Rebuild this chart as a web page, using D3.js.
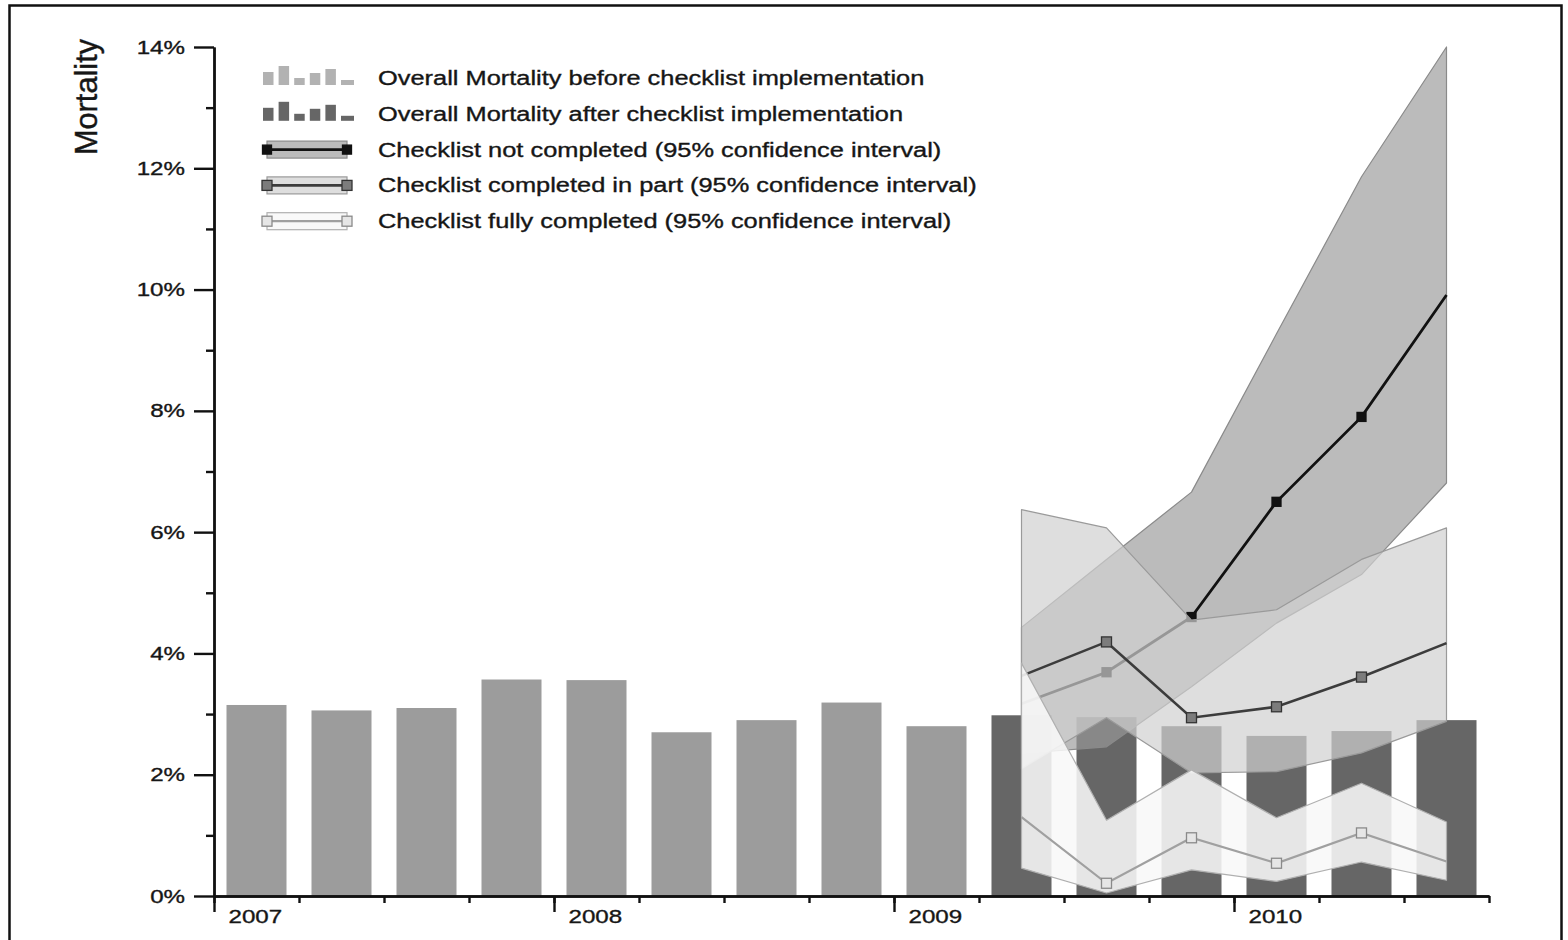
<!DOCTYPE html>
<html>
<head>
<meta charset="utf-8">
<script src="https://cdn.jsdelivr.net/npm/d3@7"></script>
<style>
  html, body { margin: 0; padding: 0; background: #fff; }
  svg { display: block; }
  text { font-family: "Liberation Sans", Arial, Helvetica, sans-serif; fill: #161616; stroke: #161616; stroke-width: 0.35px; }
</style>
</head>
<body>
<svg id="chart" width="1568" height="940"></svg>
<script>
// Quarterly overall mortality (%)
const quarters = ["2007 Q1","2007 Q2","2007 Q3","2007 Q4","2008 Q1","2008 Q2","2008 Q3","2008 Q4",
                  "2009 Q1","2009 Q2","2009 Q3","2009 Q4","2010 Q1","2010 Q2","2010 Q3"];
const overallMortality = [3.15, 3.06, 3.10, 3.57, 3.56, 2.70, 2.90, 3.19, 2.80, 2.98, 2.95, 2.80, 2.64, 2.72, 2.90];
const implementationQuarter = "2009 Q2";
const yearLabels = ["2007", "2008", "2009", "2010"];
const yTickValues = [0, 2, 4, 6, 8, 10, 12, 14];

// Mortality by checklist completion after implementation, with 95% CI (%)
const ciQuarters = ["2009 Q2","2009 Q3","2009 Q4","2010 Q1","2010 Q2","2010 Q3"];
const notCompleted     = [3.17, 3.69, 4.60, 6.50, 7.90, 9.91];
const notCompletedLow  = [2.35, 2.46, 3.45, 4.50, 5.30, 6.81];
const notCompletedHigh = [4.43, 5.55, 6.66, 9.27, 11.86, 14.00];
const partCompleted     = [3.63, 4.19, 2.94, 3.12, 3.61, 4.17];
const partCompletedLow  = [2.10, 2.94, 2.03, 2.05, 2.36, 2.88];
const partCompletedHigh = [6.37, 6.07, 4.55, 4.72, 5.55, 6.07];
const fullCompleted     = [1.30, 0.21, 0.96, 0.54, 1.04, 0.57];
const fullCompletedLow  = [0.46, 0.05, 0.43, 0.24, 0.56, 0.26];
const fullCompletedHigh = [3.84, 1.25, 2.08, 1.29, 1.86, 1.22];

const legendLabels = [
  "Overall Mortality before checklist implementation",
  "Overall Mortality after checklist implementation",
  "Checklist not completed (95% confidence interval)",
  "Checklist completed in part (95% confidence interval)",
  "Checklist fully completed (95% confidence interval)"
];

// ---------------------------------------------------------------------------
const svg = d3.select("#chart");
const SX = 1.27;               // horizontal stretch of lettering
const plot = { left: 214, right: 1489, top: 47, bottom: 896 };

const xBand = d3.scaleBand().domain(quarters)
  .range([plot.left, plot.right]).paddingInner(0.294).paddingOuter(0.147);
const xQuarter = d3.scaleLinear().domain([0, quarters.length]).range([plot.left, plot.right]);
const y = d3.scaleLinear().domain([0, 14]).range([plot.bottom, plot.top]);
const cx = q => xBand(q) + xBand.bandwidth() / 2;

function widen(sel, k) {
  sel.each(function () {
    const w = this.getComputedTextLength();
    d3.select(this).attr("textLength", w * k).attr("lengthAdjust", "spacingAndGlyphs");
  });
}

// outer frame
svg.append("rect").attr("x", 9.5).attr("y", 5.5).attr("width", 1552).attr("height", 960)
  .attr("fill", "none").attr("stroke", "#111").attr("stroke-width", 2.5);

const BEFORE = "#9c9c9c", AFTER = "#666666";
const startIdx = quarters.indexOf(implementationQuarter);

// bars
svg.append("g").selectAll("rect").data(quarters).join("rect")
  .attr("x", q => xBand(q))
  .attr("width", xBand.bandwidth())
  .attr("y", (q, i) => y(overallMortality[i]))
  .attr("height", (q, i) => y(0) - y(overallMortality[i]))
  .attr("fill", (q, i) => i < startIdx ? BEFORE : AFTER);

// confidence bands with their lines
const groups = [
  { mid: notCompleted, lo: notCompletedLow, hi: notCompletedHigh,
    fill: "#999999", fillOpacity: 0.67, edge: "#8a8a8a",
    line: "#111111", lineWidth: 2.8, mFill: "#111111", mStroke: "#111111", mSize: 9 },
  { mid: partCompleted, lo: partCompletedLow, hi: partCompletedHigh,
    fill: "#d0d0d0", fillOpacity: 0.70, edge: "#9a9a9a",
    line: "#3c3c3c", lineWidth: 2.6, mFill: "#7c7c7c", mStroke: "#333333", mSize: 10 },
  { mid: fullCompleted, lo: fullCompletedLow, hi: fullCompletedHigh,
    fill: "#f8f8f8", fillOpacity: 0.88, edge: "#b0b0b0",
    line: "#a0a0a0", lineWidth: 2.2, mFill: "#e6e6e6", mStroke: "#8a8a8a", mSize: 10 }
];

groups.forEach(g => {
  const rows = ciQuarters.map((q, i) => ({ q, m: g.mid[i], lo: g.lo[i], hi: g.hi[i], i }));
  const layer = svg.append("g");
  layer.append("path").datum(rows)
    .attr("d", d3.area().x(d => cx(d.q)).y0(d => y(d.lo)).y1(d => y(d.hi)))
    .attr("fill", g.fill).attr("fill-opacity", g.fillOpacity)
    .attr("stroke", g.edge).attr("stroke-width", 1.2).attr("stroke-linejoin", "round");
  layer.append("path").datum(rows)
    .attr("d", d3.line().x(d => cx(d.q)).y(d => y(d.m)))
    .attr("fill", "none").attr("stroke", g.line).attr("stroke-width", g.lineWidth);
  layer.selectAll("rect.mk").data(rows.slice(1, -1)).join("rect")
    .attr("class", "mk")
    .attr("x", d => cx(d.q) - g.mSize / 2).attr("y", d => y(d.m) - g.mSize / 2)
    .attr("width", g.mSize).attr("height", g.mSize)
    .attr("fill", g.mFill).attr("stroke", g.mStroke).attr("stroke-width", 1.3);
});

// y axis
const AX = "#111";
const yMajor = svg.append("g").attr("transform", `translate(${plot.left},0)`)
  .call(d3.axisLeft(y).tickValues(yTickValues).tickSize(20).tickPadding(9)
    .tickFormat(d => d + "%").tickSizeOuter(0));
const yMinor = svg.append("g").attr("transform", `translate(${plot.left},0)`)
  .call(d3.axisLeft(y).tickValues(d3.range(1, 14, 2)).tickSize(8).tickFormat("").tickSizeOuter(0));
[yMajor, yMinor].forEach(a => {
  a.selectAll("path, line").attr("stroke", AX).attr("stroke-width", 2.4);
});
yMajor.selectAll("text").attr("font-size", 19).attr("fill", "#1e1e1e")
  .style("font-family", '"Liberation Sans", Arial, sans-serif');
widen(yMajor.selectAll("text"), SX);

// x axis (quarters, years labelled)
const xMinor = svg.append("g").attr("transform", `translate(0,${plot.bottom})`)
  .call(d3.axisBottom(xQuarter).tickValues(d3.range(0, quarters.length + 1))
    .tickSize(7).tickFormat("").tickSizeOuter(0));
const xMajor = svg.append("g").attr("transform", `translate(0,${plot.bottom})`)
  .call(d3.axisBottom(xQuarter).tickValues(yearLabels.map((_, i) => i * 4))
    .tickSize(16).tickSizeOuter(0).tickFormat((d, i) => yearLabels[i]));
[xMinor, xMajor].forEach(a => {
  a.selectAll("path, line").attr("stroke", AX).attr("stroke-width", 2.4);
});
xMajor.selectAll("text").attr("text-anchor", "start").attr("x", 14).attr("y", 14)
  .attr("dy", "0.71em").attr("font-size", 19).attr("fill", "#1e1e1e")
  .style("font-family", '"Liberation Sans", Arial, sans-serif');
widen(xMajor.selectAll("text"), SX);

// y axis title
svg.append("text")
  .attr("transform", "translate(97,97) rotate(-90) scale(1,1.15)")
  .attr("text-anchor", "middle")
  .attr("font-size", 27)
  .text("Mortality")
  .call(s => widen(s, 1.14));

// legend
const legend = svg.append("g");
const rowY = i => 78 + i * 35.8;
const miniBars = [13, 19, 7, 12, 16, 5];
[BEFORE, AFTER].forEach((c, r) => {
  legend.append("g").selectAll("rect").data(miniBars).join("rect")
    .attr("x", (h, k) => 263 + k * 15.6)
    .attr("width", (h, k) => k === miniBars.length - 1 ? 13 : 10.5)
    .attr("y", h => rowY(r) + 7 - h)
    .attr("height", h => h)
    .attr("fill", r === 0 ? "#b2b2b2" : c);
});
groups.forEach((g, k) => {
  const cy = rowY(k + 2);
  legend.append("rect").attr("x", 267).attr("y", cy - 8.5).attr("width", 80).attr("height", 17)
    .attr("fill", g.fill).attr("fill-opacity", g.fillOpacity)
    .attr("stroke", g.edge).attr("stroke-width", 1.2);
  legend.append("line").attr("x1", 264).attr("x2", 350).attr("y1", cy).attr("y2", cy)
    .attr("stroke", g.line).attr("stroke-width", g.lineWidth);
  [267, 347].forEach(mx => {
    legend.append("rect").attr("x", mx - g.mSize / 2).attr("y", cy - g.mSize / 2)
      .attr("width", g.mSize).attr("height", g.mSize)
      .attr("fill", g.mFill).attr("stroke", g.mStroke).attr("stroke-width", 1.3);
  });
});
legend.selectAll("text.lg").data(legendLabels).join("text")
  .attr("class", "lg")
  .attr("x", 378).attr("y", (d, i) => rowY(i)).attr("dy", "0.35em")
  .attr("font-size", 20)
  .text(d => d)
  .call(s => widen(s, SX));
</script>
</body>
</html>
